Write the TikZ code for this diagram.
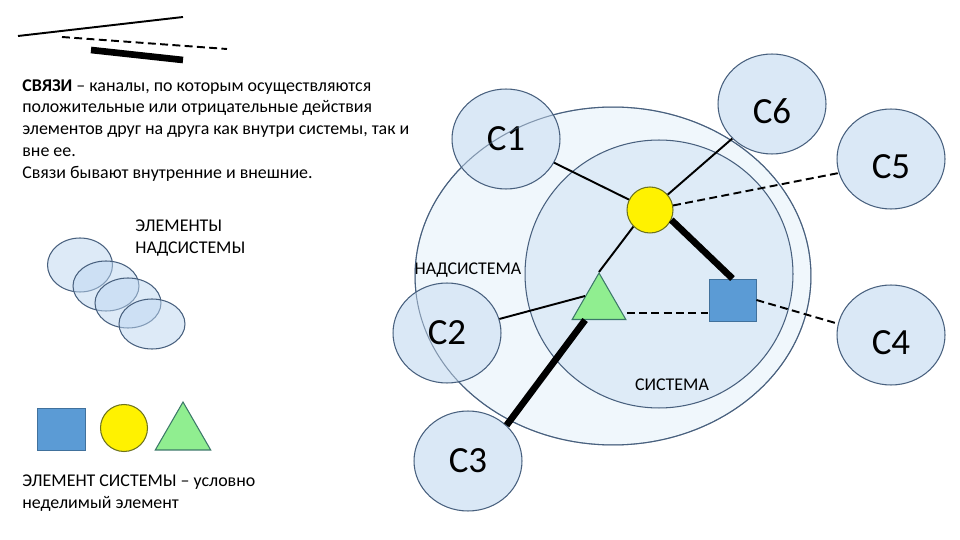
\documentclass[tikz,border=0pt]{standalone}
\usepackage{fontspec}
\setmainfont{Carlito}
\usepackage{xcolor}
\usepackage{tikz}
\usetikzlibrary{shapes,arrows,positioning,calc}

\definecolor{rim}{RGB}{72,96,126}
\definecolor{satfill}{RGB}{218,232,246}
\definecolor{outerfill}{RGB}{240,247,252}
\definecolor{innerfill}{RGB}{222,235,247}
\definecolor{elfill}{RGB}{188,214,240}
\definecolor{sqfill}{RGB}{91,155,213}
\definecolor{sqrim}{RGB}{65,113,156}
\definecolor{trifill}{RGB}{144,238,144}
\definecolor{tririm}{RGB}{60,120,105}
\definecolor{yelrim}{RGB}{110,115,30}

\begin{document}
\begin{tikzpicture}[
    x=0.02cm, y=-0.02cm,
    sat/.style={ellipse, draw=rim, fill=satfill, line width=0.6pt, minimum width=2.16cm, minimum height=2cm, inner sep=0pt, font=\fontsize{21}{24}\selectfont},
    dropped/.style={text height=0.8cm},
    supel/.style={ellipse, draw=rim, fill=elfill, fill opacity=0.5, line width=0.6pt, minimum width=1.32cm, minimum height=1cm, inner sep=0pt},
    sqel/.style={rectangle, draw=sqrim, fill=sqfill, line width=0.5pt, minimum width=0.94cm, minimum height=0.84cm, inner sep=0pt},
    yelel/.style={circle, draw=yelrim, fill=yellow, line width=0.6pt, minimum size=0.92cm, inner sep=0pt},
    triel/.style={regular polygon, regular polygon sides=3, draw=tririm, fill=trifill, line width=0.6pt, minimum size=1.24cm, inner sep=0pt},
    txt/.style={font=\fontsize{10.2}{12.4}\selectfont, inner sep=0pt},
    thinlink/.style={line width=1.1pt},
    dashlink/.style={line width=1.1pt, dash pattern=on 4.5pt off 2.5pt},
    thicklink/.style={line width=3.8pt}
]
\useasboundingbox (0,0) rectangle (960,540);

% legend of links
\coordinate (s1) at (18,36);  \coordinate (s2) at (183,17);
\coordinate (d1) at (62,37);  \coordinate (d2) at (227,49);
\coordinate (t1) at (91,50);  \coordinate (t2) at (183,60);
\draw[thinlink] (s1) -- (s2);
\draw[dashlink] (d1) -- (d2);
\draw[thicklink] (t1) -- (t2);

\node[txt, anchor=north west, align=left] (links) at (22,79) {%
\textbf{СВЯЗИ} – каналы, по которым осуществляются\\
положительные или отрицательные действия\\
элементов друг на друга как внутри системы, так и\\
вне ее.\\
Связи бывают внутренние и внешние.};

% elements of the supersystem
\node[supel, minimum height=1.08cm, minimum width=1.3cm] (e1) at (80,265) {};
\node[supel] (e2) at (106,286) {};
\node[supel] (e3) at (128,303) {};
\node[supel] (e4) at (152,324) {};
\node[txt, anchor=north west, align=left] (suptxt) at (135,220) {ЭЛЕМЕНТЫ\\НАДСИСТЕМЫ};

% elements of the system
\node[sqel, minimum width=0.96cm] (lsq) at (61,429) {};
\node[yelel, minimum size=0.94cm] (lyel) at (124,428) {};
\node[triel, minimum size=1.28cm] (ltri) at (183,434) {};
\node[txt, anchor=north west, align=left] (eltxt) at (22,475) {ЭЛЕМЕНТ СИСТЕМЫ – условно\\неделимый элемент};

% supersystem and system
\node[ellipse, draw=rim, fill=outerfill, line width=0.6pt, minimum width=7.92cm, minimum height=6.76cm, inner sep=0pt] (nadsys) at (613,276) {};
\node[circle, draw=rim, fill=innerfill, line width=0.6pt, minimum size=5.36cm, inner sep=0pt] (sys) at (659,274) {};
\node[txt] (nadtxt) at (468,270) {НАДСИСТЕМА};
\node[txt] (systxt) at (672,385) {СИСТЕМА};

\node[yelel] (yel) at (650,210) {};
\node[sqel] (sq) at (732.5,300) {};
\node[triel] (tri) at (599,304) {};

\node[sat] (C1) at (506,139) {C1};
\node[sat, dropped] (C6) at (772,104) {C6};
\node[sat, dropped] (C5) at (891,159) {C5};
\node[sat] (C2) at (447,333) {C2};
\node[sat] (C3) at (468,461) {C3};
\node[sat, dropped] (C4) at (891,335) {C4};
\draw[rim, line width=0.6pt, draw opacity=0.6] (nadsys.center) ellipse [x radius=3.96cm, y radius=3.38cm];

% links
\draw[thinlink] (C1) -- (yel);
\draw[thinlink] (C6) -- (yel);
\draw[dashlink] (yel) -- (C5.195);
\draw[thicklink] (yel.-25) -- (sq.north);
\draw[thinlink] (yel.225) -- (tri.corner 1);
\draw[thinlink] (C2) -- (tri.side 1);
\coordinate (sqlow) at ($(sq.south west)!0.2!(sq.north west)$);
\draw[dashlink] (sqlow -| tri.corner 3) -- (sqlow);
\draw[dashlink] (sq.east) -- (C4.168);
\draw[thicklink] ($(tri.corner 2)!0.25!(tri.corner 3)$) -- (C3.north east);
\end{tikzpicture}
\end{document}
